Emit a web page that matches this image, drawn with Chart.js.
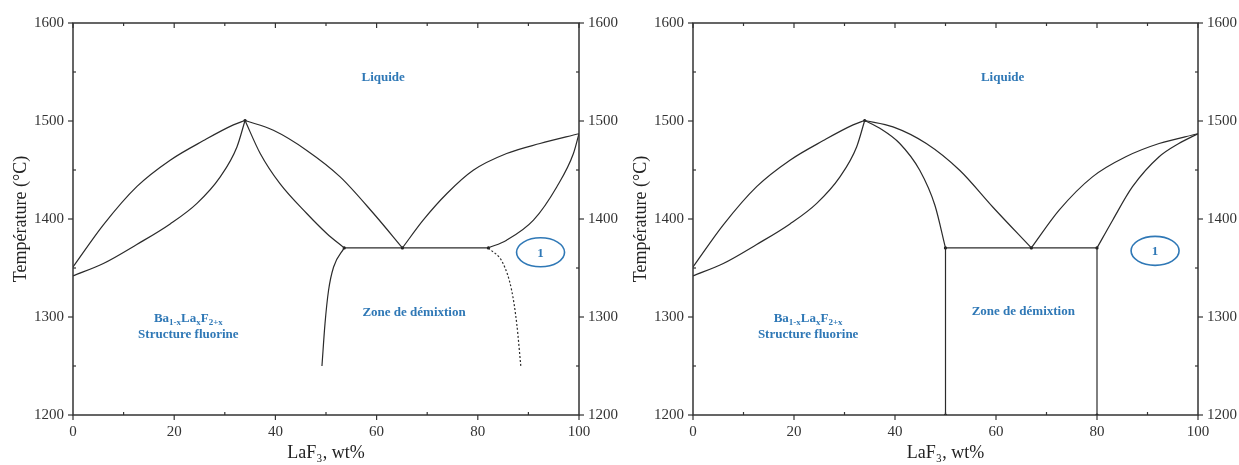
<!DOCTYPE html>
<html>
<head>
<meta charset="utf-8">
<script src="https://cdn.jsdelivr.net/npm/chart.js@4.4.0/dist/chart.umd.min.js"></script>
<style>
  body { margin: 0; background: #fff; }
  canvas { position: absolute; top: 0; }
  #chartA { left: 0; }
  #chartB { left: 620px; }
</style>
</head>
<body>
<canvas id="chartA" width="620" height="465"></canvas>
<canvas id="chartB" width="619" height="465"></canvas>
<script>
// [LaF3 wt%, temperature °C]
const fluoriteLiquidus = [[0, 1351], [6, 1394], [12.6, 1433], [19.2, 1460], [25.8, 1480], [31.7, 1496], [34, 1500.5]];
const fluoriteSolidus = [[0, 1342], [6, 1354.6], [12.6, 1374], [19.2, 1395], [24.5, 1416], [29.1, 1443], [32.4, 1473.5], [34, 1500.5]];

// left diagram
const aLiquidusMid = [[34, 1500.5], [39.6, 1490.5], [46.2, 1470], [52.8, 1443], [59.4, 1405.6], [65.1, 1370.5]];
const aSolidusMid = [[34, 1500.5], [37, 1466.8], [40.9, 1436], [46.2, 1405.6], [50.2, 1385], [53.6, 1370.5]];
const aEutectic = [[53.6, 1370.5], [82.1, 1370.5]];
const aLaF3Liquidus = [[65.1, 1370.5], [69.2, 1398.8], [73.9, 1426], [79.1, 1449.7], [85.7, 1466.8], [92.3, 1477], [100, 1487]];
const aLaF3Solidus = [[82.1, 1370.5], [85.7, 1378.4], [91, 1398.8], [95.6, 1432.7], [98.9, 1466.8], [100, 1487]];
const aGapLeft = [[53.6, 1370.5], [51.5, 1351], [50.5, 1327], [49.8, 1293], [49.2, 1250]];
const aGapRight = [[82.1, 1370.5], [85, 1354.6], [86.7, 1327], [87.7, 1293], [88.5, 1250]];
const aJunctions = [[34, 1500.5], [53.6, 1370.5], [65.1, 1370.5], [82.1, 1370.5]];

// right diagram
const bLiquidusMid = [[34, 1500.5], [39.6, 1494], [46.2, 1477], [52.8, 1449.7], [59.4, 1412], [67, 1370.5]];
const bSolidusMid = [[34, 1500.5], [37, 1492.6], [40.9, 1477.3], [44.9, 1449.7], [47.9, 1414], [50, 1370.5]];
const bEutectic = [[50, 1370.5], [80, 1370.5]];
const bLaF3Liquidus = [[67, 1370.5], [72.5, 1409], [79.1, 1443], [85.7, 1463.5], [92.3, 1477], [100, 1487]];
const bLaF3Solidus = [[80, 1370.5], [83.1, 1398.8], [87, 1432.7], [92.3, 1463.5], [96.2, 1477], [100, 1487]];
const bGapLeft = [[50, 1370.5], [50, 1200]];
const bGapRight = [[80, 1370.5], [80, 1200]];
const bJunctions = [[34, 1500.5], [50, 1370.5], [67, 1370.5], [80, 1370.5], [50, 1200], [80, 1200]];

const xRange = [0, 100];
const yRange = [1200, 1600];

// label anchors (data coords)
const aNotes = { liquide: [61.3, 1544], fluorite: [22.8, 1298.6], gap: [67.4, 1304], circle: [92.4, 1366] };
const bNotes = { liquide: [61.3, 1544], fluorite: [22.8, 1298.6], gap: [65.4, 1305], circle: [91.5, 1367.5] };

const SERIF = "'Liberation Serif', 'Times New Roman', serif";
const BLUE = '#2f78b6';
const INK = '#2b2b2b';

function curve(pts, dashed) {
  return {
    data: pts.map(([x, y]) => ({ x, y })),
    showLine: true,
    borderColor: INK,
    borderWidth: 1.2,
    borderDash: dashed ? [2, 2] : [],
    pointRadius: 0,
    cubicInterpolationMode: 'monotone'
  };
}

function dots(pts) {
  return {
    data: pts.map(([x, y]) => ({ x, y })),
    showLine: false,
    pointRadius: 1.6,
    pointBackgroundColor: '#111',
    pointBorderWidth: 0
  };
}

function drawRuns(ctx, runs, cx, cy) {
  const big = "bold 13px " + SERIF, small = "bold 9px " + SERIF;
  let w = 0;
  runs.forEach(([t, sub]) => { ctx.font = sub ? small : big; w += ctx.measureText(t).width; });
  let px = cx - w / 2;
  ctx.textAlign = 'left';
  runs.forEach(([t, sub]) => {
    ctx.font = sub ? small : big;
    ctx.fillText(t, px, sub ? cy + 4 : cy);
    px += ctx.measureText(t).width;
  });
}

const phasePlugin = {
  id: 'phase',
  afterDraw(chart, args, opts) {
    const { ctx, chartArea: a, scales: { x, y } } = chart;
    const seg = (x1, y1, x2, y2) => { ctx.beginPath(); ctx.moveTo(x1, y1); ctx.lineTo(x2, y2); ctx.stroke(); };
    ctx.save();
    ctx.strokeStyle = '#333';
    ctx.lineWidth = 1.5;
    ctx.strokeRect(a.left, a.top, a.right - a.left, a.bottom - a.top);
    ctx.lineWidth = 1.2;
    for (let v = xRange[0]; v <= xRange[1]; v += 10) {
      const px = x.getPixelForValue(v), major = v % 20 === 0;
      seg(px, a.bottom, px, major ? a.bottom + 5 : a.bottom - 3);
      seg(px, a.top, px, a.top + (major ? 5 : 3));
    }
    for (let v = yRange[0]; v <= yRange[1]; v += 50) {
      const py = y.getPixelForValue(v), major = v % 100 === 0;
      seg(a.left, py, major ? a.left - 5 : a.left + 3, py);
      seg(a.right, py, major ? a.right + 5 : a.right - 3, py);
    }

    // blue annotations
    const n = opts.notes;
    const at = p => [x.getPixelForValue(p[0]), y.getPixelForValue(p[1])];
    ctx.fillStyle = BLUE;
    ctx.textAlign = 'center';
    ctx.textBaseline = 'middle';
    ctx.font = "bold 13px " + SERIF;
    let [px, py] = at(n.liquide);
    ctx.fillText('Liquide', px, py);
    [px, py] = at(n.gap);
    ctx.fillText('Zone de démixtion', px, py);
    [px, py] = at(n.fluorite);
    drawRuns(ctx, [['Ba', 0], ['1-x', 1], ['La', 0], ['x', 1], ['F', 0], ['2+x', 1]], px, py);
    ctx.textAlign = 'center';
    ctx.font = "bold 13px " + SERIF;
    ctx.fillText('Structure fluorine', px, py + 16);
    [px, py] = at(n.circle);
    ctx.strokeStyle = BLUE;
    ctx.lineWidth = 1.6;
    ctx.beginPath();
    ctx.ellipse(px, py, 24, 14.5, 0, 0, Math.PI * 2);
    ctx.stroke();
    ctx.fillText('1', px, py + 1);
    ctx.restore();
  }
};

const plainNumber = v => String(v);

function yAxis(position, width, withTitle) {
  return {
    type: 'linear',
    position,
    min: yRange[0],
    max: yRange[1],
    grid: { display: false, drawTicks: false },
    border: { display: false },
    ticks: { stepSize: 100, padding: 9, color: '#333', font: { family: SERIF, size: 15 }, callback: plainNumber },
    title: {
      display: withTitle,
      text: 'Température (°C)',
      color: '#222',
      font: { family: SERIF, size: 18 },
      padding: { top: 10, bottom: 0 }
    },
    afterFit(scale) { scale.width = width; }
  };
}

function makeChart(id, curves, junctions, notes) {
  return new Chart(document.getElementById(id), {
    type: 'scatter',
    data: { datasets: curves.concat([dots(junctions)]) },
    options: {
      responsive: false,
      animation: false,
      layout: { padding: { top: 23, right: 0, bottom: 0, left: 0 } },
      plugins: { legend: { display: false }, tooltip: { enabled: false }, phase: { notes } },
      scales: {
        x: {
          type: 'linear',
          min: xRange[0],
          max: xRange[1],
          grid: { display: false, drawTicks: false },
          border: { display: false },
          ticks: { stepSize: 20, padding: 8, color: '#333', font: { family: SERIF, size: 15 }, callback: plainNumber },
          title: {
            display: true,
            text: 'LaF₃, wt%',
            color: '#222',
            font: { family: SERIF, size: 18 },
            padding: { top: 0, bottom: 1 }
          },
          afterFit(scale) { scale.height = 50; }
        },
        y: yAxis('left', 73, true),
        y2: yAxis('right', 41, false)
      }
    },
    plugins: [phasePlugin]
  });
}

makeChart('chartA', [
  curve(fluoriteLiquidus), curve(fluoriteSolidus),
  curve(aLiquidusMid), curve(aSolidusMid), curve(aEutectic),
  curve(aLaF3Liquidus), curve(aLaF3Solidus),
  curve(aGapLeft), curve(aGapRight, true)
], aJunctions, aNotes);

makeChart('chartB', [
  curve(fluoriteLiquidus), curve(fluoriteSolidus),
  curve(bLiquidusMid), curve(bSolidusMid), curve(bEutectic),
  curve(bLaF3Liquidus), curve(bLaF3Solidus),
  curve(bGapLeft), curve(bGapRight)
], bJunctions, bNotes);
</script>
</body>
</html>
